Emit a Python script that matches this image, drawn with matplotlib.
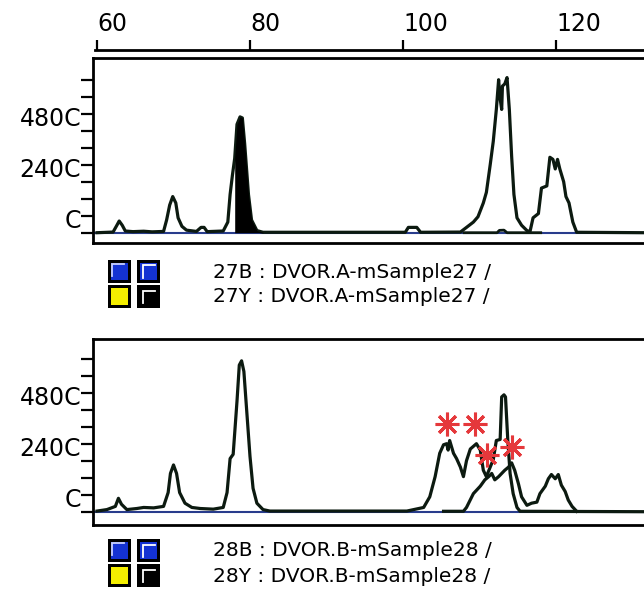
import numpy as np
import matplotlib.pyplot as plt
from matplotlib.patches import Rectangle
from matplotlib.lines import Line2D

W, H = 644, 606

# size scale (bp) and intensity scale (RFU)
size_ticks = [60, 80, 100, 120]
int_ticks = [0, 2400, 4800]
int_labels = ["C", "240C", "480C"]
int_minor = np.arange(0, 7201, 800)

# sample 27, black channel
s27_x = [60.0, 62.1, 62.6, 62.9, 63.3, 63.7, 64.7, 66.1, 67.2, 68.7, 69.1, 69.5, 69.9,
         70.3, 70.6, 71.1, 71.7, 73.0, 73.6, 74.0, 74.4, 76.5, 77.1, 77.4, 77.7, 78.0,
         78.3, 78.7, 79.0, 79.3, 79.8, 80.2, 80.9, 81.7, 90.5, 100.3, 100.7, 101.8, 102.3,
         107.5, 108.3, 109.2, 109.8, 110.5, 110.9, 111.4, 111.8, 112.2, 112.5, 112.7,
         112.9, 113.0, 113.3, 113.6, 113.9, 114.2, 114.5, 114.9, 115.5, 116.2, 116.6,
         117.0, 117.7, 118.1, 118.8, 119.2, 119.6, 119.9, 120.2, 120.5, 121.0, 121.3,
         121.7, 122.2, 122.7, 131.5]
s27_y = [0, 30, 350, 550, 350, 80, 50, 70, 40, 60, 600, 1300, 1700,
         1400, 700, 300, 120, 60, 250, 250, 50, 80, 500, 1800, 2700, 3500,
         5100, 5450, 5400, 4200, 1800, 600, 100, 20, 20, 20, 250, 250, 20,
         30, 250, 500, 750, 1400, 1900, 3200, 4300, 5800, 7200, 6300,
         5800, 6900, 7000, 7300, 5800, 3600, 1800, 700, 350, 100, 50,
         700, 900, 2100, 2200, 3550, 3450, 3000, 3450, 3000, 2400, 1700,
         1400, 500, 20, 0]
s27_called = (77.75, 81.7)   # peak drawn filled

# sample 27, blue channel
s27b_x = [108.0, 112.3, 112.6, 113.2, 113.6, 118.0]
s27b_y = [0, 0, 110, 120, 0, 0]

# sample 28, black channel
s28_x = [60.0, 61.3, 62.4, 62.8, 63.2, 63.9, 65.2, 66.1, 67.4, 68.7, 69.3, 69.6, 70.0,
         70.4, 70.8, 71.5, 72.4, 73.5, 75.2, 76.5, 77.0, 77.4, 77.8, 78.3, 78.6, 78.9,
         79.2, 79.6, 80.0, 80.4, 80.9, 81.7, 82.6, 100.5, 102.7, 103.5, 104.2, 104.8,
         105.3, 105.7, 105.9, 106.1, 106.6, 107.0, 107.5, 107.9, 108.3, 108.8, 109.6,
         110.1, 110.5, 110.9, 111.4, 111.8, 112.2, 112.7, 112.9, 113.2, 113.4, 113.7,
         114.0, 114.4, 114.9, 115.3, 131.5]
s28_y = [30, 100, 250, 630, 350, 100, 150, 200, 180, 250, 900, 1800, 2200,
         1800, 900, 400, 200, 150, 120, 200, 900, 2500, 2700, 5200, 6900, 7100,
         6600, 4600, 2600, 1100, 400, 100, 30, 30, 200, 700, 1650, 2750,
         3150, 3200, 2900, 3350, 2750, 2500, 2100, 1650, 2400, 2950, 3200,
         2900, 1950, 1650, 2100, 2450, 3350, 3400, 5400, 5500, 5400, 3350,
         1800, 850, 200, 20, 0]

# sample 28, second allele trace
s28b_x = [105.3, 107.9, 108.3, 109.2, 110.1, 110.7, 111.2, 111.6, 112.0, 112.5, 112.9,
          113.3, 113.8, 114.2, 114.6, 115.1, 115.5, 116.2, 116.8, 117.5, 117.9, 118.6,
          119.0, 119.4, 119.9, 120.3, 120.7, 121.2, 121.6, 122.1, 122.7]
s28b_y = [20, 20, 200, 850, 1200, 1500, 1650, 1800, 1500, 1650, 1800,
          1950, 2100, 2300, 1950, 1300, 700, 300, 400, 450, 850, 1200,
          1550, 1750, 1550, 1750, 1250, 950, 550, 250, 20]

# stutter marks
star_x = [105.75, 109.4, 111.0, 114.2]
star_y = [4120, 4120, 2670, 3030]

leg1 = ["27B : DVOR.A-mSample27 /", "27Y : DVOR.A-mSample27 /"]
leg2 = ["28B : DVOR.B-mSample28 /", "28Y : DVOR.B-mSample28 /"]

BLUE = "#1432d2"
YELLOW = "#f4ee00"
TRACE = "#0c1a10"
BASE = "#283c8c"
RED = "#e5383b"

plt.rcParams['font.family'] = ['DejaVu Sans']


def fx(px):
    return px / W


def fy(py):
    return 1 - py / H


x_lo = 60 + (93 - 97) / 7.65
x_hi = 60 + (644 - 97) / 7.65

fig = plt.figure(figsize=(W / 100, H / 100), dpi=100)


def panel(top, bottom, base_px):
    ax = fig.add_axes([fx(93), fy(bottom), 1 - fx(93), (bottom - top) / H])
    ppu = 51 / 2400
    ax.set_xlim(x_lo, x_hi)
    ax.set_ylim(-(bottom - base_px) / ppu, (base_px - top) / ppu)
    for s in ["top", "bottom", "left"]:
        ax.spines[s].set_linewidth(2)
    ax.spines["right"].set_visible(False)
    ax.set_xticks([])
    ax.set_yticks(int_ticks)
    ax.set_yticklabels(int_labels)
    ax.set_yticks(int_minor, minor=True)
    ax.tick_params(axis="y", which="both", direction="out", length=8.5, width=1.6,
                   labelsize=17, pad=0)
    for lbl in ax.get_yticklabels():
        lbl.set_va("bottom")
    ax.axhline(0, color=BASE, lw=1.5, zorder=1)
    return ax


# size ruler on top
ax0 = fig.add_axes([fx(93), fy(50), 1 - fx(93), 1e-4])
ax0.set_xlim(x_lo, x_hi)
for s in ["bottom", "left", "right"]:
    ax0.spines[s].set_visible(False)
ax0.spines["top"].set_linewidth(2)
ax0.spines["top"].set_bounds(60 - 0.2, x_hi)
ax0.xaxis.tick_top()
ax0.set_xticks(size_ticks)
ax0.set_yticks([])
ax0.tick_params(axis="x", direction="out", length=7, width=1.6, labelsize=17, pad=3)
for lbl in ax0.get_xticklabels():
    lbl.set_ha("left")

ax1 = panel(58, 243, 232.7)
ax1.plot(s27b_x, s27b_y, color=TRACE, lw=2, zorder=2)
ax1.plot(s27_x, s27_y, color=TRACE, lw=2.3, zorder=3)
xx = np.array(s27_x)
ax1.fill_between(xx, s27_y, 0, where=(xx >= s27_called[0]) & (xx <= s27_called[1]),
                 color="black", lw=0, zorder=3)

ax2 = panel(339, 525, 511.7)
ax2.plot(s28b_x, s28b_y, color=TRACE, lw=2.3, zorder=2)
ax2.plot(s28_x, s28_y, color=TRACE, lw=2.3, zorder=3)
ax2.plot(star_x, star_y, ls="none", marker=(8, 2, 0), ms=17, mew=2.2, color=RED,
         zorder=4)


def square(x, y, face, hi=None, inset=0, s=23):
    fig.add_artist(Rectangle((fx(x), fy(y + s)), s / W, s / H, transform=fig.transFigure,
                             facecolor="black", edgecolor="none"))
    b = 3
    fig.add_artist(Rectangle((fx(x + b), fy(y + s - b)), (s - 2 * b) / W, (s - 2 * b) / H,
                             transform=fig.transFigure, facecolor=face, edgecolor="none"))
    if hi is not None:
        a = x + b + inset
        c = y + b + inset
        L = (s - 2 * b) * 0.75
        fig.add_artist(Line2D([fx(a), fx(a), fx(a + L)], [fy(c + L), fy(c), fy(c)],
                              transform=fig.transFigure, color=hi, lw=1.3,
                              solid_joinstyle="miter"))


def legend(top, labels):
    rows = [top, top + 25]
    square(108, rows[0], BLUE, hi="#c8d0ff", inset=0.7)
    square(137, rows[0], BLUE, hi="#ffffff", inset=2.5)
    square(108, rows[1], YELLOW)
    square(137, rows[1], "black", hi="#ffffff", inset=2.5)
    for r, t in zip(rows, labels):
        fig.text(fx(213), fy(r + 12), t, va="center", ha="left", fontsize=14.5)


legend(260, leg1)
legend(539, leg2)

fig.savefig("out.png", dpi=100)
